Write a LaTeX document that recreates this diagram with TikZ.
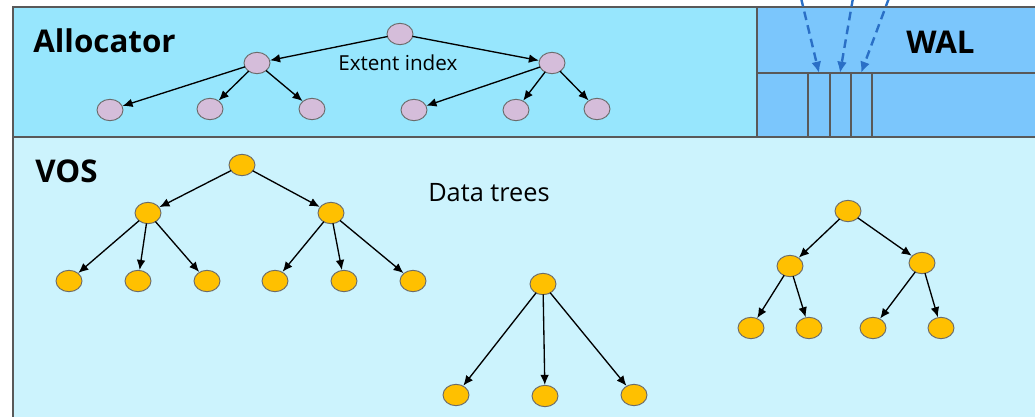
\documentclass[tikz,border=0pt]{standalone}
\usepackage{fontspec}
\setmainfont{Open Sans}
\usetikzlibrary{shapes.geometric,arrows.meta}

\definecolor{frameline}{HTML}{595959}
\definecolor{allocfill}{HTML}{97E6FD}
\definecolor{walfill}{HTML}{7BC6FC}
\definecolor{vosfill}{HTML}{CCF3FD}
\definecolor{extentfill}{HTML}{D5BDDA}
\definecolor{datafill}{HTML}{FFC000}
\definecolor{nodeline}{HTML}{6B6B6B}
\definecolor{walarrow}{HTML}{2A6FC6}

\tikzset{
  region/.style={draw=frameline, line width=1.9pt},
  walgrid/.style={draw=frameline, line width=1.5pt},
  treenode/.style={ellipse, draw=nodeline, line width=0.7pt,
    minimum width=19.5pt, minimum height=16pt, inner sep=0pt},
  extentnode/.style={treenode, fill=extentfill},
  datanode/.style={treenode, fill=datafill},
  link/.style={-{Latex[length=7.5pt,width=6.5pt]}, line width=1pt, shorten <=-0.5pt},
  walwrite/.style={-{Latex[length=8.5pt,width=7.5pt]}, draw=walarrow, line width=1.8pt,
    dash pattern=on 6.5pt off 4pt},
  title/.style={font=\bfseries\fontsize{23.5}{28}\selectfont, anchor=base west, inner sep=0pt},
  caption/.style={anchor=base west, inner sep=0pt}
}

\begin{document}
\begin{tikzpicture}[x=0.75pt, y=-0.75pt]
\useasboundingbox (0,0) rectangle (1035,417);
\fill[white] (0,0) rectangle (1035,417);
\begin{scope}
\clip (0,0) rectangle (1035,417);

% regions
\fill[vosfill] (13,137) rectangle (1045,430);
\fill[allocfill] (13,7) rectangle (757,137);
\fill[walfill] (757,7) rectangle (1045,137);

% WAL slots
\draw[walgrid] (757,73) -- (1045,73);
\foreach \xx in {808,830,851,872} \draw[walgrid] (\xx,73) -- (\xx,137);

% region borders
\draw[region] (757,7) -- (757,137);
\draw[region] (13,137) -- (1045,137);
\draw[region] (13,7) rectangle (1045,430);

% region titles
\node[title] (alloc) at (33,53) {Allocator};
\node[title] (wal) at (906,54) {WAL};
\node[title] (vos) at (35,183) {VOS};
\node[caption, font=\fontsize{15.5}{18}\selectfont] (extent) at (338,71) {Extent index};
\node[caption, font=\fontsize{19}{23}\selectfont] (datatrees) at (428,201) {Data trees};

% extent index tree
\node[extentnode] (e0) at (400,34) {};
\node[extentnode] (e1) at (257,63) {};
\node[extentnode] (e2) at (552,63) {};
\node[extentnode] (e11) at (110,110) {};
\node[extentnode] (e12) at (210,109) {};
\node[extentnode] (e13) at (312,109) {};
\node[extentnode] (e21) at (414,110) {};
\node[extentnode] (e22) at (516,110) {};
\node[extentnode] (e23) at (597,109) {};
\foreach \p/\c in {e0/e1,e0/e2,e1/e11,e1/e12,e1/e13,e2/e21,e2/e22,e2/e23}
  \draw[link] (\p) -- (\c);

% data tree A
\node[datanode] (a0) at (242,165) {};
\node[datanode] (a1) at (148,213) {};
\node[datanode] (a2) at (331,213) {};
\node[datanode] (a11) at (69,281) {};
\node[datanode] (a12) at (138,281) {};
\node[datanode] (a13) at (207,281) {};
\node[datanode] (a21) at (275,281) {};
\node[datanode] (a22) at (344,281) {};
\node[datanode] (a23) at (413,281) {};
\foreach \p/\c in {a0/a1,a0/a2,a1/a11,a1/a12,a1/a13,a2/a21,a2/a22,a2/a23}
  \draw[link] (\p) -- (\c);

% data tree B
\node[datanode] (b0) at (543,284) {};
\node[datanode] (b1) at (456,395) {};
\node[datanode] (b2) at (545,396) {};
\node[datanode] (b3) at (634,395) {};
\foreach \c in {b1,b2,b3}
  \draw[link] (b0) -- (\c);

% data tree C
\node[datanode] (c0) at (848,211) {};
\node[datanode] (c1) at (790,266) {};
\node[datanode] (c2) at (922,263) {};
\node[datanode] (c11) at (751,328) {};
\node[datanode] (c12) at (809,328) {};
\node[datanode] (c21) at (873,328) {};
\node[datanode] (c22) at (941,328) {};
\foreach \p/\c in {c0/c1,c0/c2,c1/c11,c1/c12,c2/c21,c2/c22}
  \draw[link] (\p) -- (\c);

% writes landing in WAL slots
\coordinate (w1s) at (801,-2);
\coordinate (w2s) at (853,-2);
\coordinate (w3s) at (889,-2);
\coordinate (w1) at (819,73);
\coordinate (w2) at (840,73);
\coordinate (w3) at (861,73);
\draw[walwrite] (w1s) -- (w1);
\draw[walwrite] (w2s) -- (w2);
\draw[walwrite] (w3s) -- (w3);
\end{scope}
\end{tikzpicture}
\end{document}
